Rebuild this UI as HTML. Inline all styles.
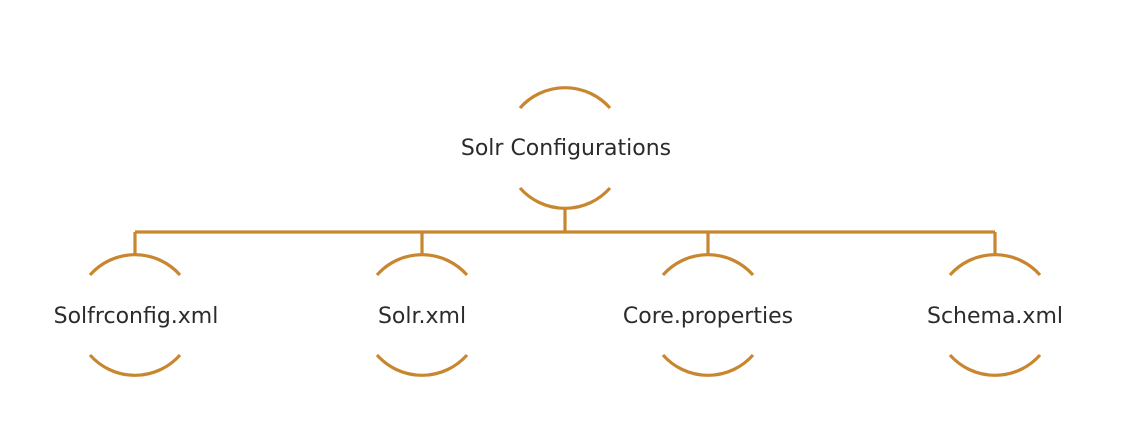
<!DOCTYPE html>
<html><head><style>
body{margin:0;background:#fff;}
svg{display:block;}
text{font-family:"DejaVu Sans","Liberation Sans",sans-serif;font-size:22px;fill:#2b2b2b;text-anchor:middle;}
</style></head><body>
<svg width="1140" height="425" viewBox="0 0 1140 425">
<g fill="none" stroke="#c8862e" stroke-width="3.2">
<path d="M520 108 A60 60 0 0 1 610 108"/>
<path d="M520 188 A60 60 0 0 0 610 188"/>
<path d="M565 208 V232 M135 232 H995 M135 232 V256 M422 232 V256 M708 232 V256 M995 232 V256"/>
<path d="M90 275 A60 60 0 0 1 180 275 M90 355 A60 60 0 0 0 180 355"/>
<path d="M377 275 A60 60 0 0 1 467 275 M377 355 A60 60 0 0 0 467 355"/>
<path d="M663 275 A60 60 0 0 1 753 275 M663 355 A60 60 0 0 0 753 355"/>
<path d="M950 275 A60 60 0 0 1 1040 275 M950 355 A60 60 0 0 0 1040 355"/>
</g>
<text x="566" y="155">Solr Configurations</text>
<text x="136" y="323">Solfrconfig.xml</text>
<text x="422" y="323">Solr.xml</text>
<text x="708" y="323">Core.properties</text>
<text x="995" y="323">Schema.xml</text>
</svg>
</body></html>
